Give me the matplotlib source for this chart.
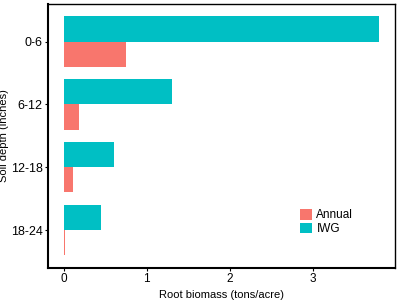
import numpy as np
import matplotlib
matplotlib.use("Agg")
import matplotlib.pyplot as plt

plt.rcParams.update({"font.family": ["Liberation Sans", "DejaVu Sans"], "font.size": 8})

depths = ["0-6", "6-12", "12-18", "18-24"]
annual = [0.75, 0.18, 0.115, 0.01]
iwg = [3.80, 1.30, 0.60, 0.45]

fig = plt.figure(figsize=(4, 3), dpi=100)
ax = fig.add_axes([0.12, 0.107, 0.868, 0.88])

pos = np.arange(len(depths))
h = 0.4
ax.barh(pos - h / 2, iwg, height=h, color="#00BFC4", label="IWG")
ax.barh(pos + h / 2, annual, height=h, color="#F8766D", label="Annual")

ax.set_ylim(len(depths) - 1 + 0.6, -0.6)
ax.set_xlim(-0.19, 3.99)
ax.set_yticks(pos)
ax.set_yticklabels(depths)
ax.set_xticks([0, 1, 2, 3])
ax.tick_params(length=2.5, width=0.8, pad=1.5, labelsize=9, colors="black")
ax.tick_params(axis="x", labelsize=8.5)

for s in ax.spines.values():
    s.set_color("black")
    s.set_linewidth(1.0)
ax.spines["left"].set_linewidth(1.5)
ax.spines["bottom"].set_linewidth(1.5)

ax.set_xlabel("Root biomass (tons/acre)", fontsize=8)
ax.xaxis.set_label_coords(0.5, -0.085)
ax.set_ylabel("Soil depth (inches)", fontsize=8)
ax.yaxis.set_label_coords(-0.113, 0.5)

handles, labels = ax.get_legend_handles_labels()
ax.legend(handles[::-1], labels[::-1], loc="lower left", bbox_to_anchor=(0.695, 0.085),
          frameon=False, handlelength=1.0, handleheight=1.0, handletextpad=0.4,
          labelspacing=0.1, fontsize=8.5)

fig.savefig("out.png", dpi=100)
